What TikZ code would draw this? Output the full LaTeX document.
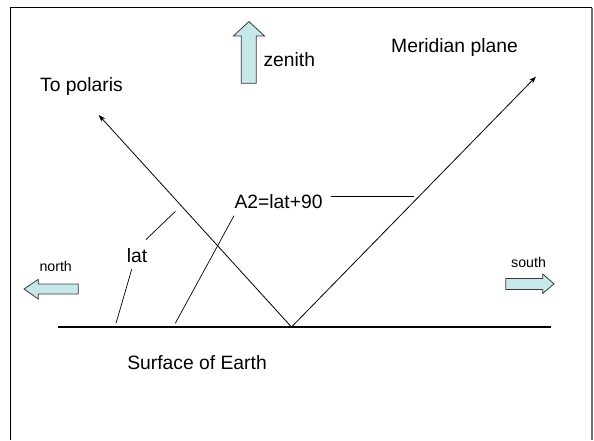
\documentclass[tikz,border=0pt]{standalone}
\usepackage{fontspec}
\setmainfont{Liberation Sans}
\usetikzlibrary{arrows.meta}
\definecolor{blockfill}{HTML}{C7E8EA}
\definecolor{blockedge}{HTML}{3A3A3A}
\definecolor{framegrey}{HTML}{707070}
\tikzset{
  lbl/.style={inner sep=0pt, anchor=base west, font=\fontsize{19.3}{22}\selectfont},
  smalllbl/.style={inner sep=0pt, anchor=base west, font=\fontsize{14.2}{17}\selectfont},
  ray/.style={line width=0.8pt, -{Stealth[length=7pt,width=5pt]}},
  leader/.style={line width=0.7pt},
  ground/.style={line width=1.8pt},
  blockarrow/.style={fill=blockfill, draw=blockedge, line width=0.8pt, line join=miter},
}
\begin{document}
\begin{tikzpicture}[x=1pt,y=-1pt]
\useasboundingbox (0,0) rectangle (594,440);
% frame
\draw[line width=1.4pt] (10.5,440) -- (10.5,7.5) -- (592,7.5);
\draw[framegrey, line width=1.6pt] (592,7.5) -- (592,440);

% coordinates
\coordinate (v) at (291.5,327);
\coordinate (polaris) at (98.7,115);
\coordinate (merid) at (535.9,76.7);
\coordinate (gl) at (58,327);
\coordinate (gr) at (551,327);

% ground and rays
\draw[ground] (gl) -- (gr);
\draw[ray] (v) -- (polaris);
\draw[ray] (v) -- (merid);

% labels
\node[lbl] (tpol) at (40,91) {To polaris};
\node[lbl] (mer) at (391,52.5) {Meridian plane};
\node[lbl] (zen) at (263.3,66.7) {zenith};
\node[lbl] (a2) at (234.3,208.3) {A2=lat+90};
\node[lbl] (lat) at (126.7,262.3) {lat};
\node[smalllbl] (north) at (39.3,271) {north};
\node[smalllbl] (south) at (511,267.7) {south};
\node[lbl] (surf) at (127.1,369) {Surface of Earth};

% leader lines
\coordinate (l1a) at (175.5,211.3);
\coordinate (l1b) at (145.9,239.6);
\coordinate (l2a) at (131.7,269.3);
\coordinate (l2b) at (116,323.3);
\coordinate (a2a) at (234,215.7);
\coordinate (a2b) at (175.3,323.3);
\coordinate (a2c) at (331.3,196);
\coordinate (a2d) at (413.7,196);
\draw[leader] (l1a) -- (l1b);
\draw[leader] (l2a) -- (l2b);
\draw[leader] (a2a) -- (a2b);
\draw[leader] (a2c) -- (a2d);

% block arrows
\draw[blockarrow] (241.2,83.3) -- (241.2,36) -- (233.4,36) -- (248.9,21.5) -- (264.6,36) -- (256.3,36) -- (256.3,83.3) -- cycle;
\draw[blockarrow] (78.3,284) -- (38.3,284) -- (38.3,279.3) -- (24,289) -- (38.3,299) -- (38.3,294) -- (78.3,294) -- cycle;
\draw[blockarrow] (505.7,278.5) -- (542.7,278.5) -- (542.7,274) -- (554,283.8) -- (542.7,293.5) -- (542.7,289.5) -- (505.7,289.5) -- cycle;
\end{tikzpicture}
\end{document}
